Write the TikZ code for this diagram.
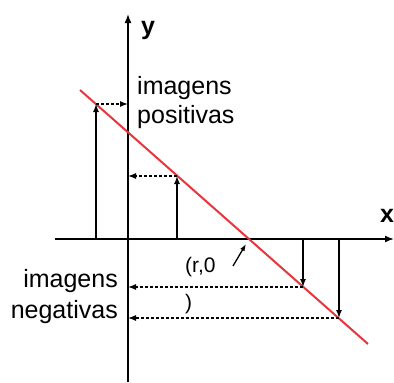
\documentclass[tikz,border=0pt]{standalone}
\usepackage{fontspec}
\setmainfont{Liberation Sans}
\usetikzlibrary{arrows.meta}
\begin{document}
\begin{tikzpicture}[x=1pt,y=-1pt,
  axis/.style={line width=1.6pt,-{Latex[length=9pt,width=7pt]}},
  proj/.style={line width=1.4pt,-{Latex[length=8pt,width=6pt]}},
  dproj/.style={line width=1.2pt,dash pattern=on 3pt off 2pt,-{Latex[length=8pt,width=6pt]}},
  redline/.style={line width=2pt,draw={rgb,255:red,232;green,52;blue,60}},
  lbl/.style={font=\fontsize{25}{29}\selectfont,inner sep=0pt},
  small/.style={font=\fontsize{21}{37}\selectfont,inner sep=0pt}]
\useasboundingbox (0,0) rectangle (394,383);
% axes
\coordinate (ybot) at (128,382);
\coordinate (ytop) at (128,14);
\coordinate (xl) at (55,239);
\coordinate (xr) at (394,239);
\draw[axis] (ybot) -- (ytop);
\draw[axis] (xl) -- (xr);
% red line
\coordinate (r1) at (80,90);
\coordinate (r2) at (368,344);
\draw[redline] (r1) -- (r2);
% points
\coordinate (a0) at (96,239);  \coordinate (a1) at (96,104);  \coordinate (ay) at (128,104);
\coordinate (b0) at (177,239); \coordinate (b1) at (177,176); \coordinate (by) at (128,176);
\coordinate (c0) at (303,239); \coordinate (c1) at (303,287); \coordinate (cy) at (128,287);
\coordinate (d0) at (339,239); \coordinate (d1) at (339,318); \coordinate (dy) at (128,318);
\draw[proj] (a0) -- (a1);
\draw[proj] (b0) -- (b1);
\draw[proj] (c0) -- (c1);
\draw[proj] (d0) -- (d1);
\draw[dproj] (a1) -- (ay);
\draw[dproj] (b1) -- (by);
\draw[dproj] (c1) -- (cy);
\draw[dproj] (d1) -- (dy);
% root arrow
\coordinate (s0) at (233,266);
\coordinate (s1) at (246,244);
\draw[line width=1.3pt,-{Latex[length=7pt,width=5pt]}] (s0) -- (s1);
% labels
\node[lbl,font=\fontsize{25}{30}\selectfont\bfseries,anchor=base west] (ylab) at (141,34) {y};
\node[lbl,font=\fontsize{25}{30}\selectfont\bfseries,anchor=base west] (xlab) at (380,222) {x};
\node[lbl,anchor=base west,align=left] (pos) at (137,123) {imagens\\positivas};
\node[lbl,anchor=base east,align=right,font=\fontsize{25}{31}\selectfont] (neg) at (118,318) {imagens\\negativas};
\node[small,anchor=base west,align=left] (root) at (185,309) {(r,0\\)};
\end{tikzpicture}
\end{document}
